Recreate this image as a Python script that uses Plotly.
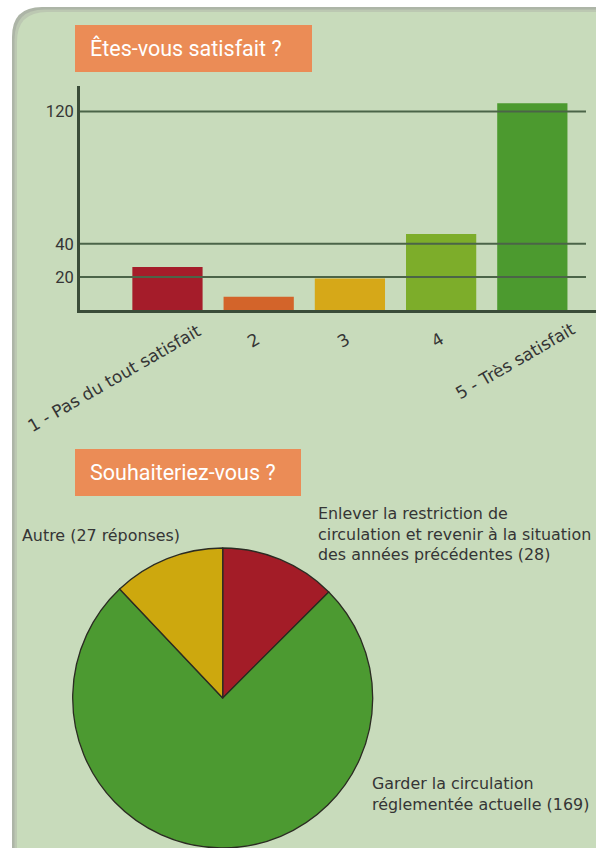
import plotly.graph_objects as go

# ---------------- data ----------------
sat_categories = ["1 - Pas du tout satisfait", "2", "3", "4", "5 - Très satisfait"]
sat_values = [26, 8, 19, 46, 125]
y_tickvals = [20, 40, 120]

wish_labels = [
    "Enlever la restriction de<br>circulation et revenir à la situation<br>des années précédentes ({v})",
    "Garder la circulation<br>réglementée actuelle ({v})",
    "Autre ({v} réponses)",
]
wish_values = [28, 169, 27]

title_bar = "Êtes-vous satisfait ?"
title_pie = "Souhaiteriez-vous ?"

# ---------------- styles ----------------
W, H = 596, 848
bar_colors = ["#a51c2a", "#d3642a", "#d6a818", "#7dad2a", "#4c9a2f"]
pie_colors = ["#a31c27", "#4c9a31", "#cda80e"]
panel = "#c8dbbb"
grid_col = "#4b6448"
axis_col = "#3a4c38"
text_col = "#353535"
orange = "#eb8c56"

# label offsets (px) of rotated x labels' centre from their category/baseline
xlab_dx = [-53, -5, -6, -4, -17]
xlab_dy = [68, 30, 30, 30, 51]

# pie label anchors in px
pie_lab_pos = [(316, 534, "left"), (370, 794, "left"), (20, 535, "left")]


def px(x):
    return x / W


def py(y):
    return 1 - y / H


fig = go.Figure()

fig.add_trace(go.Bar(
    x=list(range(len(sat_categories))), y=sat_values,
    customdata=sat_categories,
    marker=dict(color=bar_colors, line=dict(width=0)),
    width=0.77, hovertemplate="%{customdata}: %{y}<extra></extra>",
))

fig.add_trace(go.Pie(
    values=wish_values,
    labels=[l.replace("<br>", " ").format(v=v) for l, v in zip(wish_labels, wish_values)],
    marker=dict(colors=pie_colors, line=dict(color="#2b2b22", width=1.3)),
    sort=False, direction="clockwise", rotation=0,
    textinfo="none", hoverinfo="label+value",
    domain=dict(x=[px(72.7), px(372.7)], y=[0, 300 / H]),
))

shapes = []
# panel with soft grey edge
R = 30
for inset, col in [(0, "#adb5a7"), (2.5, "#bcc8b2"), (5, panel)]:
    x0, y0 = 12 + inset, 7 + inset
    path = (f"M {px(x0)},{py(y0 + R)} Q {px(x0)},{py(y0)} {px(x0 + R)},{py(y0)} "
            f"L {px(640)},{py(y0)} L {px(640)},{py(900)} L {px(x0)},{py(900)} Z")
    shapes.append(dict(type="path", xref="paper", yref="paper", path=path,
                       fillcolor=col, line=dict(width=0), layer="below"))
# title boxes
for (x0, y0, x1, y1) in [(75, 25, 312, 72), (75, 449, 301, 496)]:
    shapes.append(dict(type="rect", xref="paper", yref="paper",
                       x0=px(x0), x1=px(x1), y0=py(y0), y1=py(y1),
                       fillcolor=orange, line=dict(width=0), layer="below"))
# gridlines drawn above bars
for v in y_tickvals:
    shapes.append(dict(type="line", xref="x domain", yref="y", x0=0, x1=0.9806,
                       y0=v, y1=v, line=dict(color=grid_col, width=2), layer="above"))

annotations = []
for (txt, yy) in [(title_bar, 48.5), (title_pie, 472.5)]:
    annotations.append(dict(text=txt, xref="paper", yref="paper", x=px(88), y=py(yy),
                            xanchor="left", yanchor="middle", showarrow=False,
                            font=dict(family="Roboto", size=21.5, color="white")))
for i, c in enumerate(sat_categories):
    annotations.append(dict(text=c, xref="x", yref="y", x=i, y=0,
                            xanchor="center", yanchor="middle", textangle=-30,
                            xshift=xlab_dx[i], yshift=-xlab_dy[i], showarrow=False,
                            font=dict(family="DejaVu Sans", size=17, color=text_col)))
for l, v, (xx, yy, al) in zip(wish_labels, wish_values, pie_lab_pos):
    annotations.append(dict(text=l.format(v=v), xref="paper", yref="paper",
                            x=px(xx), y=py(yy), xanchor="left", yanchor="middle",
                            align=al, showarrow=False,
                            font=dict(family="DejaVu Sans", size=15.9, color=text_col)))

fig.update_layout(
    width=W, height=H,
    margin=dict(l=0, r=0, t=0, b=0),
    paper_bgcolor="white", plot_bgcolor="rgba(0,0,0,0)",
    showlegend=False, bargap=0.23,
    shapes=shapes, annotations=annotations,
    xaxis=dict(domain=[px(80), 1], range=[-0.959, 4.698], showline=True,
               linecolor=axis_col, linewidth=3, showgrid=False, zeroline=False,
               showticklabels=False, ticks="", fixedrange=True),
    yaxis=dict(domain=[py(310), py(86)], range=[0, 135.5], tickvals=y_tickvals,
               showline=True, linecolor=axis_col, linewidth=3, showgrid=False,
               zeroline=False, ticks="", ticklabelstandoff=0,
               tickfont=dict(family="Roboto", size=16.5, color=text_col), fixedrange=True),
)

fig.write_html("out.html", config={"displayModeBar": False},
               post_script="document.body.style.margin='0px';")
